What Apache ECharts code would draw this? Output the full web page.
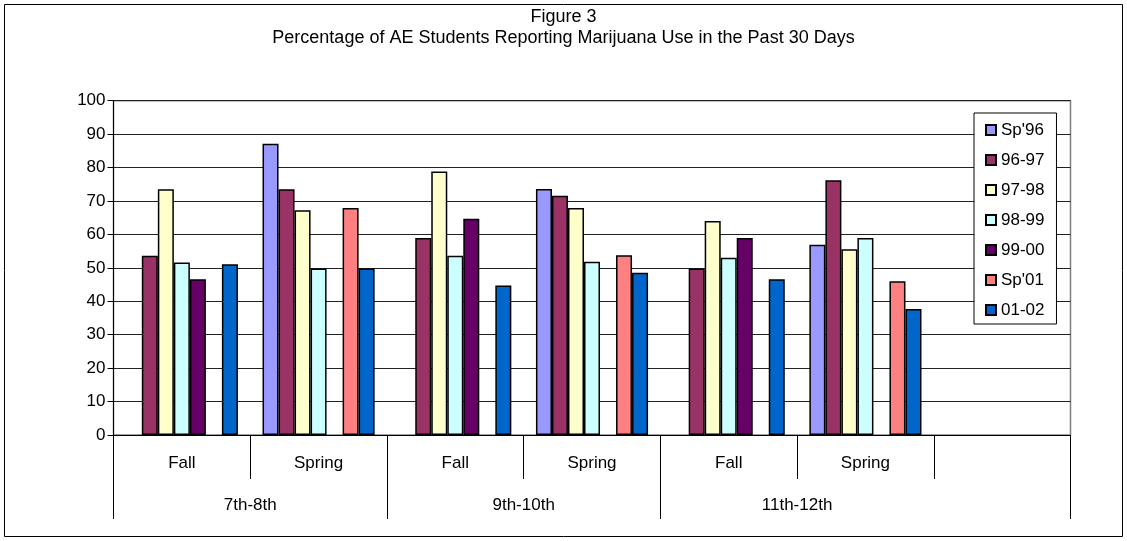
<!DOCTYPE html>
<html>
<head>
<meta charset="utf-8">
<script src="https://cdn.jsdelivr.net/npm/echarts@6/dist/echarts.min.js"></script>
<style>
html,body{margin:0;padding:0;background:#fff;}
#chart{width:1127px;height:541px;}
</style>
</head>
<body>
<div id="chart"></div>
<script>
const titleLine1 = 'Figure 3';
const titleLine2 = 'Percentage of AE Students Reporting Marijuana Use in the Past 30 Days';
const terms = ['Fall', 'Spring', 'Fall', 'Spring', 'Fall', 'Spring', ''];
const gradeLabels = ['', '', '7th-8th', '', '', '', '9th-10th', '', '', '', '11th-12th', '', '', '', ''];
const yTicks = { min: 0, max: 100, interval: 10 };

const seriesNames = ["Sp'96", '96-97', '97-98', '98-99', '99-00', "Sp'01", '01-02'];
const sp96  = [null, 87.1, null, 73.6, null, 56.9, null];
const y9697 = [53.6, 73.5, 58.9, 71.6, 49.8, 76.2, null];
const y9798 = [73.5, 67.2, 78.8, 67.9, 64.0, 55.6, null];
const y9899 = [51.6, 49.8, 53.6, 51.8, 53.0, 58.9, null];
const y9900 = [46.6, null, 64.7, null, 58.9, null, null];
const sp01  = [null, 67.9, null, 53.8, null, 46.0, null];
const y0102 = [51.1, 49.8, 44.7, 48.5, 46.6, 37.7, null];
const seriesValues = [sp96, y9697, y9798, y9899, y9900, sp01, y0102];
const seriesColors = ['#9999FF', '#993366', '#FFFFCC', '#CCFFFF', '#660066', '#FF8080', '#0066CC'];

const FONT = '"Liberation Sans", Arial, sans-serif';
const FS = 17;
const chart = echarts.init(document.getElementById('chart'));

const option = {
  animation: false,
  backgroundColor: '#fff',
  textStyle: { fontFamily: FONT, color: '#000' },
  title: {
    text: titleLine1 + '\n' + titleLine2,
    left: 'center',
    top: 7,
    padding: 0,
    textStyle: { fontFamily: FONT, fontSize: 18, fontWeight: 'normal', color: '#000', lineHeight: 21 }
  },
  graphic: [{
    type: 'rect',
    shape: { x: 4.5, y: 4.5, width: 1118, height: 532 },
    style: { fill: 'none', stroke: '#000', lineWidth: 1 },
    silent: true, z: 100
  }],
  legend: {
    orient: 'vertical',
    left: 974,
    top: 113,
    data: seriesNames,
    backgroundColor: '#fff',
    borderColor: '#000',
    borderWidth: 1,
    padding: [8, 12, 5, 11],
    itemWidth: 10,
    itemHeight: 10,
    itemGap: 12,
    icon: 'rect',
    textStyle: { fontFamily: FONT, fontSize: FS, color: '#000', lineHeight: 18 }
  },
  grid: {
    left: 113.5, right: 56.5, top: 100.7, bottom: 106,
    show: true, borderColor: '#808080', borderWidth: 1.5, backgroundColor: 'transparent'
  },
  xAxis: [{
    type: 'category',
    data: terms,
    position: 'bottom',
    axisLine: { show: true, lineStyle: { color: '#000', width: 1 } },
    axisTick: { show: true, length: 44, lineStyle: { color: '#000', width: 1 } },
    axisLabel: { interval: 0, margin: 20, fontFamily: FONT, fontSize: FS, color: '#000' },
    splitLine: { show: false }
  }, {
    type: 'category',
    data: gradeLabels,
    position: 'bottom',
    boundaryGap: false,
    axisLine: { show: false },
    axisTick: {
      show: true, length: 84,
      interval: function (i) { return i === 0 || i === 4 || i === 8 || i === 14; },
      lineStyle: { color: '#000', width: 1 }
    },
    axisLabel: { interval: 0, margin: 62, fontFamily: FONT, fontSize: FS, color: '#000' },
    splitLine: { show: false }
  }],
  yAxis: {
    type: 'value',
    min: yTicks.min, max: yTicks.max, interval: yTicks.interval,
    axisLine: { show: true, lineStyle: { color: '#000', width: 1 } },
    axisTick: { show: true, length: 6, lineStyle: { color: '#000' } },
    axisLabel: { margin: 8, fontFamily: FONT, fontSize: FS, color: '#000' },
    splitLine: { show: true, lineStyle: { color: '#222', width: 1 } }
  },
  series: seriesNames.map((name, k) => ({
    name: name,
    type: 'bar',
    xAxisIndex: 0,
    data: seriesValues[k],
    barGap: '0%',
    barCategoryGap: '18%',
    itemStyle: { color: seriesColors[k], borderColor: '#000', borderWidth: 1.5 }
  }))
};
chart.setOption(option);
</script>
</body>
</html>
